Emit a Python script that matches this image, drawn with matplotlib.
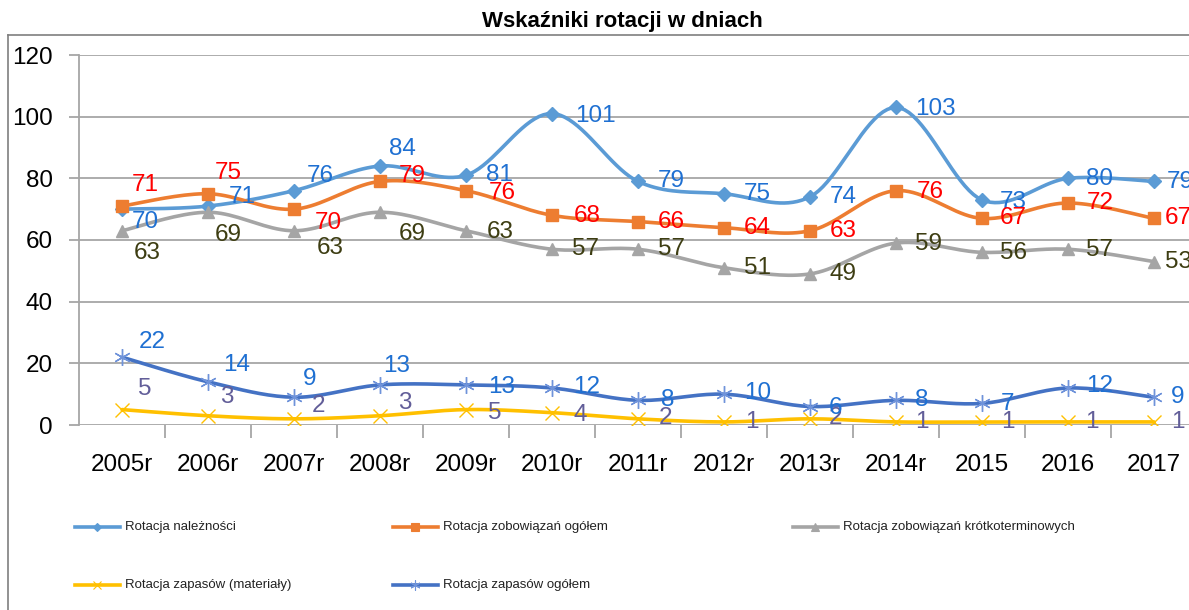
import numpy as np
import matplotlib
matplotlib.use("Agg")
import matplotlib.pyplot as plt
from matplotlib.lines import Line2D

plt.rcParams['font.family'] = ['Liberation Sans', 'DejaVu Sans']

# ---------------- data ----------------
categories = ["2005r", "2006r", "2007r", "2008r", "2009r", "2010r", "2011r",
              "2012r", "2013r", "2014r", "2015", "2016", "2017"]
naleznosci = [70, 71, 76, 84, 81, 101, 79, 75, 74, 103, 73, 80, 79]
zobowiazania = [71, 75, 70, 79, 76, 68, 66, 64, 63, 76, 67, 72, 67]
krotkoterm = [63, 69, 63, 69, 63, 57, 57, 51, 49, 59, 56, 57, 53]
materialy = [5, 3, 2, 3, 5, 4, 2, 1, 2, 1, 1, 1, 1]
zapasy = [22, 14, 9, 13, 13, 12, 8, 10, 6, 8, 7, 12, 9]
series_names = ["Rotacja należności", "Rotacja zobowiązań ogółem",
                "Rotacja zobowiązań krótkoterminowych",
                "Rotacja zapasów (materiały)", "Rotacja zapasów ogółem"]
yticks = [0, 20, 40, 60, 80, 100, 120]
title = "Wskaźniki rotacji w dniach"

# ---------------- styles ----------------
W, H = 1189, 610
fig = plt.figure(figsize=(W / 100, H / 100), dpi=100)
ax_left, ax_right, ax_top, ax_bot = 79, 79 + 13 * 86, 55, 425
ax = fig.add_axes([ax_left / W, (H - ax_bot) / H, (ax_right - ax_left) / W,
                   (ax_bot - ax_top) / H])

def smooth(xs, ys, n=20):
    xs = np.asarray(xs, float); ys = np.asarray(ys, float)
    P = np.column_stack([xs, ys])
    P = np.vstack([P[0], P, P[-1]])
    out = []
    for i in range(1, len(P) - 2):
        p0, p1, p2, p3 = P[i - 1], P[i], P[i + 1], P[i + 2]
        t = np.linspace(0, 1, n, endpoint=False)[:, None]
        c1 = p1 + (p2 - p0) / 6.0
        c2 = p2 - (p3 - p1) / 6.0
        b = ((1 - t) ** 3) * p1 + 3 * ((1 - t) ** 2) * t * c1 + 3 * (1 - t) * t ** 2 * c2 + t ** 3 * p2
        out.append(b)
    out.append(P[-2][None, :])
    out = np.vstack(out)
    return out[:, 0], out[:, 1]

x = np.arange(len(categories))

styles = [
    dict(data=naleznosci, color="#5B9BD5", marker="D", ms=7, mfc="#5B9BD5", mec="#5B9BD5", lbl="#1F70D2"),
    dict(data=zobowiazania, color="#ED7D31", marker="s", ms=9, mfc="#ED7D31", mec="#ED7D31", lbl="#FF0000"),
    dict(data=krotkoterm, color="#A5A5A5", marker="^", ms=9, mfc="#A5A5A5", mec="#A5A5A5", lbl="#3D3D12"),
    dict(data=materialy, color="#FFC000", marker="x", ms=10, mfc="#FFC000", mec="#FFC000", lbl="#625E99"),
    dict(data=zapasy, color="#4472C4", marker=(6, 2, 0), ms=12, mfc="#6F93DA", mec="#6F93DA", lbl="#1F70D2"),
]

# label offsets in pixels (image direction: +dy = down), default right of point
default_off = (33, 0)
offsets = [
    {0: (23, 13), 1: (34, -9), 2: (26, -15), 3: (22, -17), 5: (43, 2), 9: (39, 2), 10: (31, 2), 11: (31, 1), 12: (26, 1)},
    {0: (23, -21), 1: (20, -21), 2: (34, 14), 3: (32, -5), 4: (36, 2), 5: (35, 1), 9: (34, 1), 10: (31, 0), 11: (32, 0), 12: (24, 0)},
    {0: (25, 22), 1: (20, 23), 2: (36, 17), 3: (32, 22), 4: (34, 1), 9: (32, 1), 10: (31, 1), 11: (31, 1), 12: (24, 0)},
    {0: (23, -21), 1: (19, -19), 2: (24, -13), 3: (25, -13), 4: (29, 3), 5: (28, 2), 6: (27, -1), 7: (28, 0), 8: (25, -1), 9: (26, 0), 10: (26, 0), 11: (24, 0), 12: (24, 0)},
    {0: (30, -15), 1: (29, -17), 2: (16, -18), 3: (17, -19), 4: (36, 2), 5: (35, -1), 6: (30, 0), 7: (34, -1), 8: (25, 1), 9: (26, 0), 10: (25, 1), 11: (32, -2), 12: (24, 0)},
]

# grid / axes
for yv in yticks[1:]:
    ax.axhline(yv, color="#A6A6A6", lw=1.3, zorder=0)
ax.axhline(0, color="#A6A6A6", lw=1.3, zorder=1)
ax.set_xlim(-0.5, len(categories) - 0.5)
ax.set_ylim(0, 120)
for s in ["top", "right", "bottom"]:
    ax.spines[s].set_visible(False)
ax.spines["left"].set_color("#A6A6A6")
ax.spines["left"].set_linewidth(1.3)
ax.set_yticks(yticks)
ax.set_yticklabels([str(v) for v in yticks])
ax.tick_params(axis="y", length=7, width=1.3, color="#A6A6A6", labelsize=17.5, pad=12)
ax.set_xticks(x)
ax.set_xticklabels(categories)
ax.tick_params(axis="x", which="major", length=0, labelsize=17.5, pad=21)
ax.set_xticks(np.arange(0.5, len(categories) - 0.5, 1.0), minor=True)
ax.tick_params(axis="x", which="minor", length=9, width=1.3, color="#A6A6A6", direction="out")

for st, offs in zip(styles, offsets):
    sx, sy = smooth(x, st["data"])
    ax.plot(sx, sy, color=st["color"], lw=2.6, zorder=3, solid_capstyle="round")
    ax.plot(x, st["data"], ls="none", marker=st["marker"], ms=st["ms"], mfc=st["mfc"],
            mec=st["mec"], mew=1.0, zorder=4)
    for i, v in enumerate(st["data"]):
        dx, dy = offs.get(i, default_off)
        ax.annotate(str(v), (x[i], v), xytext=(dx, -dy), textcoords="offset pixels",
                    ha="center", va="center", fontsize=17.5, color=st["lbl"], zorder=5,
                    annotation_clip=False)

# title
fig.text(622 / W, 1 - 22 / H, title, ha="center", va="center", fontsize=16, fontweight="bold")

# chart border
fig.add_artist(Line2D([8 / W, 8 / W], [0, 1 - 35 / H], transform=fig.transFigure, color="#7F7F7F", lw=1.2))
fig.add_artist(Line2D([8 / W, 1], [1 - 35 / H, 1 - 35 / H], transform=fig.transFigure, color="#7F7F7F", lw=1.2))

# legend
leg_pos = [(75, 527), (393, 527), (793, 527), (75, 585), (393, 585)]
for st, name, (lx, ly) in zip(styles, series_names, leg_pos):
    xs = [lx / W, (lx + 22) / W, (lx + 45) / W]
    ys = [1 - ly / H] * 3
    fig.add_artist(Line2D(xs, ys, transform=fig.transFigure, color=st["color"], lw=2.6,
                          marker=st["marker"], markevery=[1], ms=st["ms"] * 0.6,
                          mfc=st["mfc"], mec=st["mec"], mew=0.8))
    fig.text((lx + 50) / W, 1 - ly / H, name, ha="left", va="center", fontsize=9.5, color="#222222")

fig.savefig("out.png", dpi=100)
